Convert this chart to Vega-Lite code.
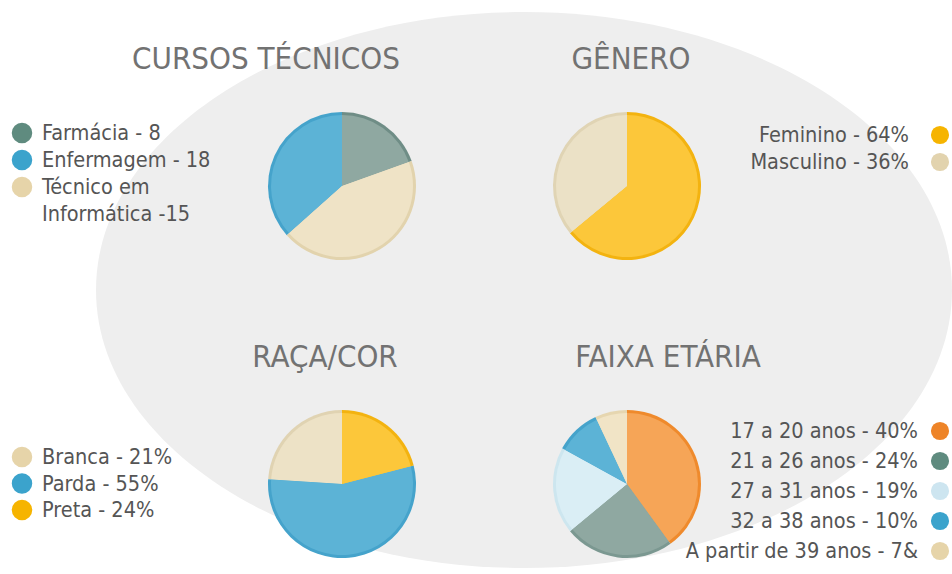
{
  "$schema": "https://vega.github.io/schema/vega-lite/v6.json",
  "padding": {"top": 12, "left": 0, "right": 0, "bottom": 0},
  "background": "#ffffff",
  "config": {"view": {"stroke": null}},
  "datasets": {
    "fundo": [{"elemento": "elipse"}],
    "cursos": [
      {"categoria": "Farmácia", "rotulo": "Farmácia - 8", "valor": 8, "ordem": 1},
      {"categoria": "Enfermagem", "rotulo": "Enfermagem - 18", "valor": 15, "ordem": 3},
      {"categoria": "Técnico em Informática", "rotulo": "Técnico em\nInformática -15", "valor": 18, "ordem": 2}
    ],
    "genero": [
      {"categoria": "Feminino", "rotulo": "Feminino - 64%", "valor": 64, "ordem": 1},
      {"categoria": "Masculino", "rotulo": "Masculino - 36%", "valor": 36, "ordem": 2}
    ],
    "raca": [
      {"categoria": "Branca", "rotulo": "Branca - 21%", "valor": 24, "ordem": 3},
      {"categoria": "Parda", "rotulo": "Parda - 55%", "valor": 55, "ordem": 2},
      {"categoria": "Preta", "rotulo": "Preta - 24%", "valor": 21, "ordem": 1}
    ],
    "faixa": [
      {"categoria": "17 a 20 anos", "rotulo": "17 a 20 anos - 40%", "valor": 40, "ordem": 1},
      {"categoria": "21 a 26 anos", "rotulo": "21 a 26 anos - 24%", "valor": 24, "ordem": 2},
      {"categoria": "27 a 31 anos", "rotulo": "27 a 31 anos - 19%", "valor": 19, "ordem": 3},
      {"categoria": "32 a 38 anos", "rotulo": "32 a 38 anos - 10%", "valor": 10, "ordem": 4},
      {"categoria": "A partir de 39 anos", "rotulo": "A partir de 39 anos - 7&", "valor": 7, "ordem": 5}
    ]
  },
  "columns": 7,
  "align": "each",
  "bounds": "flush",
  "spacing": {"row": 150, "column": 0},
  "resolve": {"scale": {"color": "independent", "theta": "independent", "x": "independent", "y": "independent"}},
  "concat": [
    {
      "width": 44, "height": 96,
      "layer": [
        {
          "data": {"name": "fundo"},
          "mark": {
            "type": "point", "filled": true, "opacity": 1, "strokeWidth": 0, "color": "#eeeeee", "size": 40000,
            "shape": "M 9.30 1.30 C 9.30 2.835 7.384 4.08 5.02 4.08 C 2.656 4.08 0.74 2.835 0.74 1.30 C 0.74 -0.235 2.656 -1.48 5.02 -1.48 C 7.384 -1.48 9.30 -0.235 9.30 1.30 Z"
          },
          "encoding": {}
        },
        {
          "data": {"name": "cursos"},
          "mark": {"type": "point", "filled": true, "opacity": 1, "size": 420, "strokeWidth": 0},
          "encoding": {
            "y": {"field": "categoria", "type": "nominal", "sort": null, "axis": null, "scale": {"type": "point", "padding": 0.7778}},
            "color": {"field": "categoria", "type": "nominal", "legend": null,
              "scale": {"domain": ["Farmácia", "Enfermagem", "Técnico em Informática"], "range": ["#5f8b7f", "#3ba3cc", "#e6d4a9"]}}
          }
        },
        {
          "data": {"name": "cursos"},
          "mark": {"type": "text", "align": "left", "baseline": "alphabetic", "dx": 20, "dy": 7, "fontSize": 21.5, "lineHeight": 27, "lineBreak": "\n", "font": "Liberation Sans Narrow, DejaVu Sans Condensed, Liberation Sans", "color": "#555555"},
          "encoding": {
            "y": {"field": "categoria", "type": "nominal", "sort": null, "axis": null, "scale": {"type": "point", "padding": 0.7778}},
            "text": {"field": "rotulo"}
          }
        }
      ]
    },
    {"width": 224, "height": 148, "data": {"values": []}, "mark": "point"},
    {
      "width": 148, "height": 148,
      "data": {"name": "cursos"},
      "title": {"text": "CURSOS TÉCNICOS", "fontSize": 31, "font": "Liberation Sans Narrow, DejaVu Sans Condensed, Liberation Sans", "fontWeight": "normal", "color": "#727272", "anchor": "middle", "baseline": "alphabetic", "offset": 12, "dx": -76},
      "resolve": {"scale": {"color": "independent"}},
      "layer": [
        {
          "mark": {"type": "arc", "radius": 74},
          "encoding": {
            "theta": {"field": "valor", "type": "quantitative", "stack": true},
            "order": {"field": "ordem", "type": "quantitative"},
            "color": {"field": "categoria", "type": "nominal", "legend": null,
              "scale": {"domain": ["Farmácia", "Enfermagem", "Técnico em Informática"], "range": ["#6f8d86", "#45a3cb", "#e2d3ad"]}}
          }
        },
        {
          "mark": {"type": "arc", "radius": 71},
          "encoding": {
            "theta": {"field": "valor", "type": "quantitative", "stack": true},
            "order": {"field": "ordem", "type": "quantitative"},
            "color": {"field": "categoria", "type": "nominal", "legend": null,
              "scale": {"domain": ["Farmácia", "Enfermagem", "Técnico em Informática"], "range": ["#8fa8a1", "#5cb3d6", "#efe3c6"]}}
          }
        }
      ]
    },
    {"width": 137, "height": 148, "data": {"values": []}, "mark": "point"},
    {
      "width": 148, "height": 148,
      "data": {"name": "genero"},
      "title": {"text": "GÊNERO", "fontSize": 31, "font": "Liberation Sans Narrow, DejaVu Sans Condensed, Liberation Sans", "fontWeight": "normal", "color": "#727272", "anchor": "middle", "baseline": "alphabetic", "offset": 12, "dx": 4},
      "resolve": {"scale": {"color": "independent"}},
      "layer": [
        {
          "mark": {"type": "arc", "radius": 74},
          "encoding": {
            "theta": {"field": "valor", "type": "quantitative", "stack": true},
            "order": {"field": "ordem", "type": "quantitative"},
            "color": {"field": "categoria", "type": "nominal", "legend": null,
              "scale": {"domain": ["Feminino", "Masculino"], "range": ["#f3b310", "#e0d4b4"]}}
          }
        },
        {
          "mark": {"type": "arc", "radius": 71},
          "encoding": {
            "theta": {"field": "valor", "type": "quantitative", "stack": true},
            "order": {"field": "ordem", "type": "quantitative"},
            "color": {"field": "categoria", "type": "nominal", "legend": null,
              "scale": {"domain": ["Feminino", "Masculino"], "range": ["#fcc73a", "#ebe1c6"]}}
          }
        }
      ]
    },
    {"width": 227, "height": 148, "data": {"values": []}, "mark": "point"},
    {
      "width": 24, "height": 73,
      "data": {"name": "genero"},
      "layer": [
        {
          "mark": {"type": "point", "filled": true, "opacity": 1, "size": 330, "strokeWidth": 0},
          "encoding": {
            "y": {"field": "categoria", "type": "nominal", "sort": null, "axis": null, "scale": {"type": "point", "padding": 0.8519}},
            "color": {"field": "categoria", "type": "nominal", "legend": null,
              "scale": {"domain": ["Feminino", "Masculino"], "range": ["#f6b400", "#e2d3ae"]}}
          }
        },
        {
          "mark": {"type": "text", "align": "right", "baseline": "alphabetic", "dx": -31, "dy": 7, "fontSize": 21.5, "font": "Liberation Sans Narrow, DejaVu Sans Condensed, Liberation Sans", "color": "#555555"},
          "encoding": {
            "y": {"field": "categoria", "type": "nominal", "sort": null, "axis": null, "scale": {"type": "point", "padding": 0.8519}},
            "text": {"field": "rotulo"}
          }
        }
      ]
    },
    {
      "width": 44, "height": 106,
      "data": {"name": "raca"},
      "layer": [
        {
          "mark": {"type": "point", "filled": true, "opacity": 1, "size": 420, "strokeWidth": 0},
          "encoding": {
            "y": {"field": "categoria", "type": "nominal", "sort": null, "axis": null, "scale": {"type": "point", "padding": 1, "align": 0.8868}},
            "color": {"field": "categoria", "type": "nominal", "legend": null,
              "scale": {"domain": ["Branca", "Parda", "Preta"], "range": ["#e6d4a9", "#3ba3cc", "#f6b400"]}}
          }
        },
        {
          "mark": {"type": "text", "align": "left", "baseline": "alphabetic", "dx": 20, "dy": 7, "fontSize": 21.5, "font": "Liberation Sans Narrow, DejaVu Sans Condensed, Liberation Sans", "color": "#555555"},
          "encoding": {
            "y": {"field": "categoria", "type": "nominal", "sort": null, "axis": null, "scale": {"type": "point", "padding": 1, "align": 0.8868}},
            "text": {"field": "rotulo"}
          }
        }
      ]
    },
    {"width": 224, "height": 148, "data": {"values": []}, "mark": "point"},
    {
      "width": 148, "height": 148,
      "data": {"name": "raca"},
      "title": {"text": "RAÇA/COR", "fontSize": 31, "font": "Liberation Sans Narrow, DejaVu Sans Condensed, Liberation Sans", "fontWeight": "normal", "color": "#727272", "anchor": "middle", "baseline": "alphabetic", "offset": 12, "dx": -17},
      "resolve": {"scale": {"color": "independent"}},
      "layer": [
        {
          "mark": {"type": "arc", "radius": 74},
          "encoding": {
            "theta": {"field": "valor", "type": "quantitative", "stack": true},
            "order": {"field": "ordem", "type": "quantitative"},
            "color": {"field": "categoria", "type": "nominal", "legend": null,
              "scale": {"domain": ["Branca", "Parda", "Preta"], "range": ["#e0d3b2", "#45a3cb", "#f3b310"]}}
          }
        },
        {
          "mark": {"type": "arc", "radius": 71},
          "encoding": {
            "theta": {"field": "valor", "type": "quantitative", "stack": true},
            "order": {"field": "ordem", "type": "quantitative"},
            "color": {"field": "categoria", "type": "nominal", "legend": null,
              "scale": {"domain": ["Branca", "Parda", "Preta"], "range": ["#ede2c6", "#5cb3d6", "#fcc73a"]}}
          }
        }
      ]
    },
    {"width": 137, "height": 148, "data": {"values": []}, "mark": "point"},
    {
      "width": 148, "height": 148,
      "data": {"name": "faixa"},
      "title": {"text": "FAIXA ETÁRIA", "fontSize": 31, "font": "Liberation Sans Narrow, DejaVu Sans Condensed, Liberation Sans", "fontWeight": "normal", "color": "#727272", "anchor": "middle", "baseline": "alphabetic", "offset": 12, "dx": 41},
      "resolve": {"scale": {"color": "independent"}},
      "layer": [
        {
          "mark": {"type": "arc", "radius": 74},
          "encoding": {
            "theta": {"field": "valor", "type": "quantitative", "stack": true},
            "order": {"field": "ordem", "type": "quantitative"},
            "color": {"field": "categoria", "type": "nominal", "legend": null,
              "scale": {"domain": ["17 a 20 anos", "21 a 26 anos", "27 a 31 anos", "32 a 38 anos", "A partir de 39 anos"], "range": ["#ef8a2c", "#7b9891", "#cde6ef", "#45a3cb", "#e6d6b0"]}}
          }
        },
        {
          "mark": {"type": "arc", "radius": 71},
          "encoding": {
            "theta": {"field": "valor", "type": "quantitative", "stack": true},
            "order": {"field": "ordem", "type": "quantitative"},
            "color": {"field": "categoria", "type": "nominal", "legend": null,
              "scale": {"domain": ["17 a 20 anos", "21 a 26 anos", "27 a 31 anos", "32 a 38 anos", "A partir de 39 anos"], "range": ["#f6a557", "#8fa8a1", "#daeef5", "#5cb3d6", "#f1e4c6"]}}
          }
        }
      ]
    },
    {"width": 227, "height": 148, "data": {"values": []}, "mark": "point"},
    {
      "width": 24, "height": 162,
      "data": {"name": "faixa"},
      "layer": [
        {
          "mark": {"type": "point", "filled": true, "opacity": 1, "size": 330, "strokeWidth": 0},
          "encoding": {
            "y": {"field": "categoria", "type": "nominal", "sort": null, "axis": null, "scale": {"type": "point", "padding": 0.7}},
            "color": {"field": "categoria", "type": "nominal", "legend": null,
              "scale": {"domain": ["17 a 20 anos", "21 a 26 anos", "27 a 31 anos", "32 a 38 anos", "A partir de 39 anos"], "range": ["#ee8428", "#5f8b7f", "#cde5f0", "#3ba3cc", "#e6d4a9"]}}
          }
        },
        {
          "mark": {"type": "text", "align": "right", "baseline": "alphabetic", "dx": -22, "dy": 7, "fontSize": 21.5, "font": "Liberation Sans Narrow, DejaVu Sans Condensed, Liberation Sans", "color": "#555555"},
          "encoding": {
            "y": {"field": "categoria", "type": "nominal", "sort": null, "axis": null, "scale": {"type": "point", "padding": 0.7}},
            "text": {"field": "rotulo"}
          }
        }
      ]
    }
  ]
}
